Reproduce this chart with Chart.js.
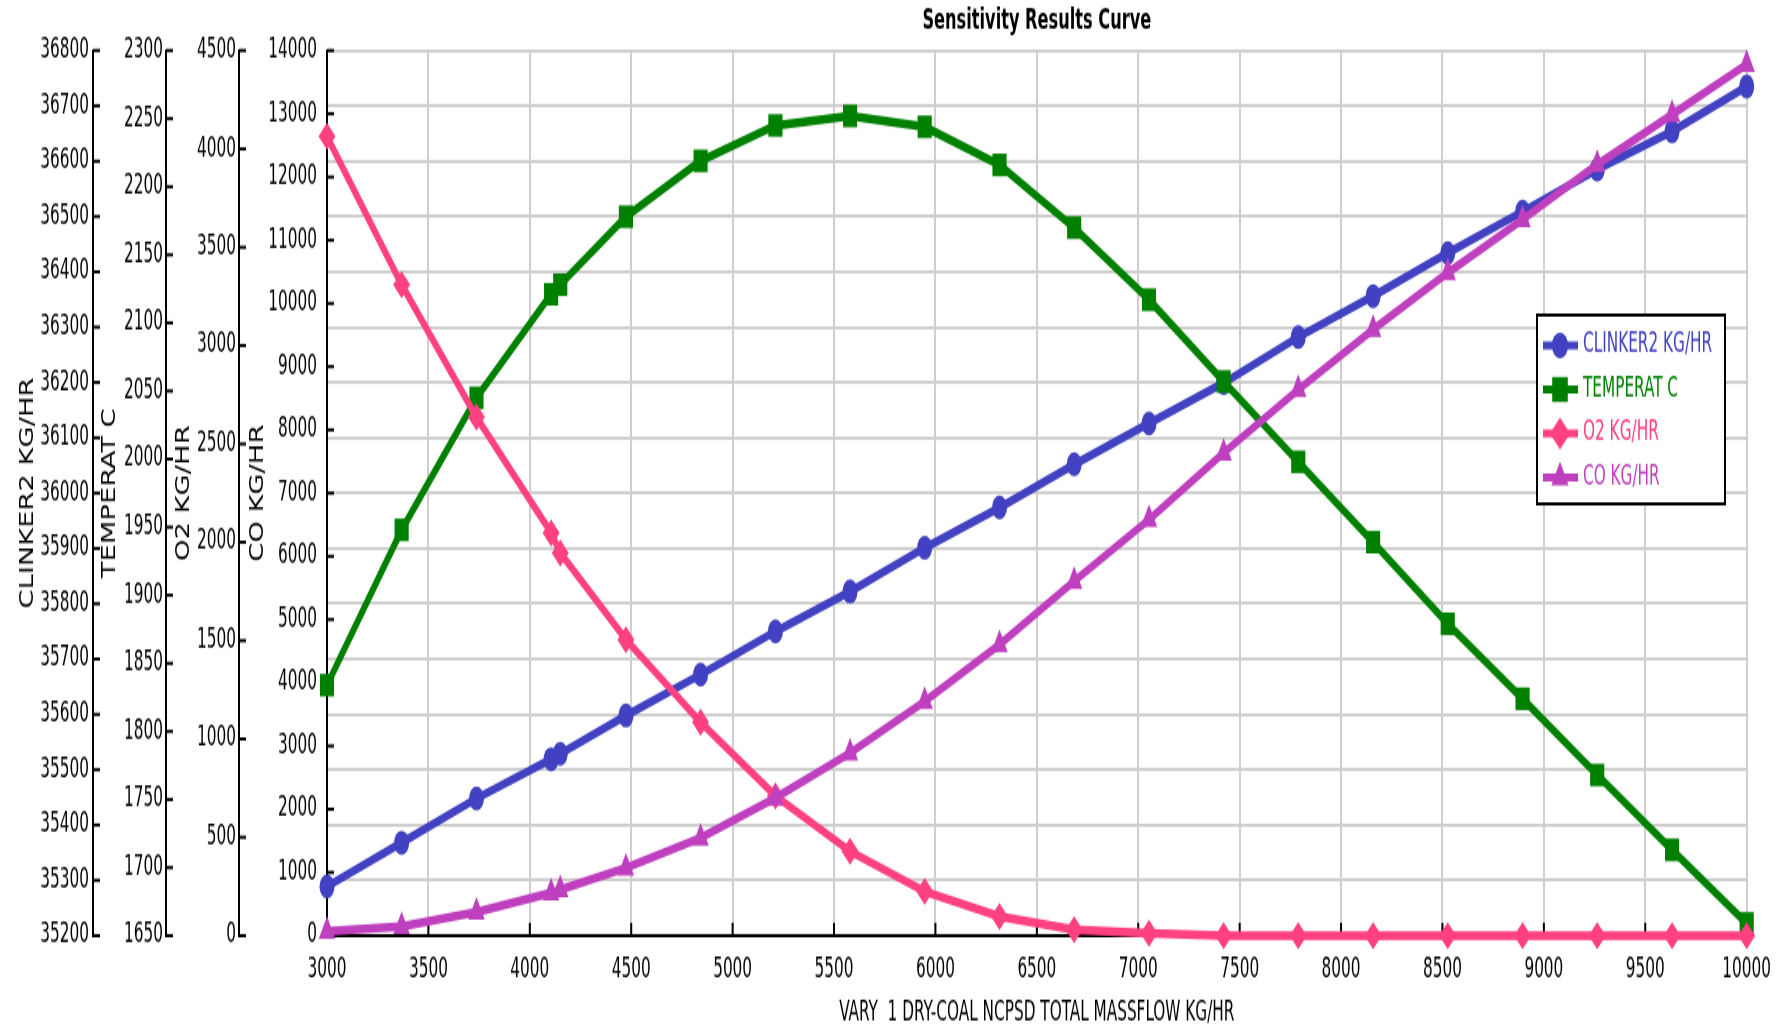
<!DOCTYPE html>
<html>
<head>
<meta http-equiv="Content-Type" content="text/html;charset=utf-8" />
<script src="https://cdn.jsdelivr.net/npm/chart.js@4.4.0/dist/chart.umd.min.js"></script>
<style>
  body { margin: 0; background: #fff; }
</style>
</head>
<body>
<!-- the picture is stretched in height, so the canvas is drawn short and shown tall -->
<canvas id="sens" width="1782" height="644" style="width:1782px;height:1030px;display:block"></canvas>
<script>
// VARY 1 DRY-COAL NCPSD TOTAL MASSFLOW KG/HR
var massflow = [3000, 3368, 3737, 4105, 4150, 4474, 4842, 5211, 5579, 5947, 6316,
                6684, 7053, 7421, 7789, 8158, 8526, 8895, 9263, 9632, 10000];
var clinker2 = [35289, 35368, 35448, 35519, 35529, 35598, 35672, 35750, 35822, 35901, 35974,
                36052, 36126, 36199, 36282, 36356, 36434, 36509, 36585, 36654, 36735];
var temperat = [1834, 1948, 2045, 2121, 2128, 2178, 2219, 2245, 2252, 2244, 2216,
                2170, 2117, 2057, 1998, 1939, 1879, 1824, 1768, 1713, 1659];
var o2 = [4064, 3310, 2636, 2048, 1946, 1505, 1085, 710, 429, 225, 98,
          30, 13, 0, 0, 0, 0, 0, 0, 0, 0];
var co = [68, 147, 374, 675, 728, 1071, 1545, 2178, 2890, 3707, 4603,
          5605, 6581, 7636, 8637, 9586, 10483, 11326, 12197, 12988, 13779];

var seriesNames = ['CLINKER2 KG/HR', 'TEMPERAT C', 'O2 KG/HR', 'CO KG/HR'];
var axisTitles = ['CLINKER2 KG/HR', 'TEMPERAT C', 'O2 KG/HR', 'CO KG/HR'];

var narrow = "'Liberation Sans Narrow', 'DejaVu Sans Condensed', 'Arial Narrow', sans-serif";
Chart.defaults.font.family = narrow;
Chart.defaults.font.size = 17;
Chart.defaults.color = '#000';

function pts(ys) {
  return massflow.map(function (x, i) { return { x: x, y: ys[i] }; });
}

// draws a marker for the legend box
function marker(ctx, style, x, y, r) {
  ctx.beginPath();
  if (style === 'circle') {
    ctx.arc(x, y, r, 0, Math.PI * 2);
  } else if (style === 'rect') {
    var s = r * Math.SQRT1_2;
    ctx.rect(x - s, y - s, 2 * s, 2 * s);
  } else if (style === 'rectRot') {
    ctx.moveTo(x, y - r); ctx.lineTo(x + r, y); ctx.lineTo(x, y + r); ctx.lineTo(x - r, y);
    ctx.closePath();
  } else {
    ctx.moveTo(x, y - r); ctx.lineTo(x + r * 0.866, y + r * 0.5); ctx.lineTo(x - r * 0.866, y + r * 0.5);
    ctx.closePath();
  }
  ctx.fill();
}

// tick marks point into the plot on every axis
var innerTicks = {
  id: 'innerTicks',
  beforeDatasetsDraw: function (chart) {
    var ctx = chart.ctx;
    ctx.save();
    ctx.strokeStyle = '#000';
    ctx.lineWidth = 2;
    ['yClinker', 'yTemp', 'yO2', 'yCo'].forEach(function (id) {
      var s = chart.scales[id];
      s.ticks.forEach(function (t) {
        var y = s.getPixelForValue(t.value);
        ctx.beginPath(); ctx.moveTo(s.right, y); ctx.lineTo(s.right + 7, y); ctx.stroke();
      });
    });
    var xs = chart.scales.x;
    xs.ticks.forEach(function (t) {
      var x = xs.getPixelForValue(t.value);
      ctx.beginPath(); ctx.moveTo(x, xs.top); ctx.lineTo(x, xs.top - 8); ctx.stroke();
    });
    ctx.restore();
  }
};

var boxLegend = {
  id: 'boxLegend',
  afterDraw: function (chart) {
    var ctx = chart.ctx;
    var left = 1537, top = 197, w = 188, h = 118;
    var sizes = { circle: 8, rect: 11, rectRot: 10, triangle: 10 };
    ctx.save();
    ctx.fillStyle = '#fff';
    ctx.fillRect(left, top, w, h);
    ctx.strokeStyle = '#000';
    ctx.lineWidth = 2;
    ctx.strokeRect(left, top, w, h);
    ctx.font = '17px ' + narrow;
    ctx.textBaseline = 'middle';
    chart.data.datasets.forEach(function (ds, i) {
      var y = top + 19 + i * 27.5;
      ctx.strokeStyle = ds.borderColor;
      ctx.fillStyle = ds.borderColor;
      ctx.lineWidth = 5;
      ctx.beginPath(); ctx.moveTo(left + 6, y); ctx.lineTo(left + 41, y); ctx.stroke();
      marker(ctx, ds.pointStyle, left + 23, y, sizes[ds.pointStyle]);
      ctx.fillText(ds.label, left + 46, y);
    });
    ctx.restore();
  }
};

function yAxis(min, max, step, title, weight, width, pad, titlePad, grid) {
  return {
    type: 'linear',
    position: 'left',
    weight: weight,
    min: min,
    max: max,
    border: { display: true, color: '#000', width: 2 },
    grid: { display: true, drawOnChartArea: grid, drawTicks: false, color: '#cfcfcf', lineWidth: 2 },
    ticks: { stepSize: step, padding: pad, autoSkip: false, callback: function (v) { return v; } },
    title: { display: true, text: title, font: { size: 19 }, padding: { top: titlePad, bottom: 0 } },
    afterFit: function (scale) { scale.width = width; }
  };
}

var ctx = document.getElementById('sens').getContext('2d');
var chart = new Chart(ctx, {
  type: 'line',
  data: {
    datasets: [
      { label: seriesNames[0], data: pts(clinker2), yAxisID: 'yClinker', order: 4,
        borderColor: '#4141c1', backgroundColor: '#4141c1', pointStyle: 'circle', pointRadius: 7.5 },
      { label: seriesNames[1], data: pts(temperat), yAxisID: 'yTemp', order: 3,
        borderColor: '#008000', backgroundColor: '#008000', pointStyle: 'rect', pointRadius: 10 },
      { label: seriesNames[2], data: pts(o2), yAxisID: 'yO2', order: 2,
        borderColor: '#ff4081', backgroundColor: '#ff4081', pointStyle: 'rectRot', pointRadius: 8.5 },
      { label: seriesNames[3], data: pts(co), yAxisID: 'yCo', order: 1,
        borderColor: '#bf40bf', backgroundColor: '#bf40bf', pointStyle: 'triangle', pointRadius: 9.5 }
    ]
  },
  options: {
    responsive: false,
    animation: false,
    devicePixelRatio: 1,
    datasets: { line: { borderWidth: 5.5, tension: 0, clip: false, pointBorderWidth: 0 } },
    layout: { padding: { right: 30, left: 0, top: 0, bottom: 0 } },
    plugins: {
      legend: { display: false },
      tooltip: { enabled: false },
      title: {
        display: true, text: 'Sensitivity Results Curve', fullSize: false,
        font: { size: 18, weight: 'bold' }, padding: { top: 3, bottom: 7 }
      }
    },
    scales: {
      x: {
        type: 'linear',
        min: 3000,
        max: 10000,
        border: { display: true, color: '#000', width: 2 },
        grid: { color: '#cfcfcf', lineWidth: 2, drawTicks: false },
        ticks: { stepSize: 500, padding: 11, autoSkip: false, maxRotation: 0, callback: function (v) { return v; } },
        title: { display: true, text: 'VARY  1 DRY-COAL NCPSD TOTAL MASSFLOW KG/HR', font: { size: 17 }, padding: { top: 4, bottom: 0 } },
        afterFit: function (scale) { scale.height = 59; }
      },
      yClinker: yAxis(35200, 36800, 100, axisTitles[0], 4, 93, 4, 17, true),
      yTemp: yAxis(1650, 2300, 50, axisTitles[1], 3, 73, 3, 6, false),
      yO2: yAxis(0, 4500, 500, axisTitles[2], 2, 73, 3, 7, false),
      yCo: yAxis(0, 14000, 1000, axisTitles[3], 1, 88, 10, 8, false)
    }
  },
  plugins: [innerTicks, boxLegend]
});
</script>
</body>
</html>
